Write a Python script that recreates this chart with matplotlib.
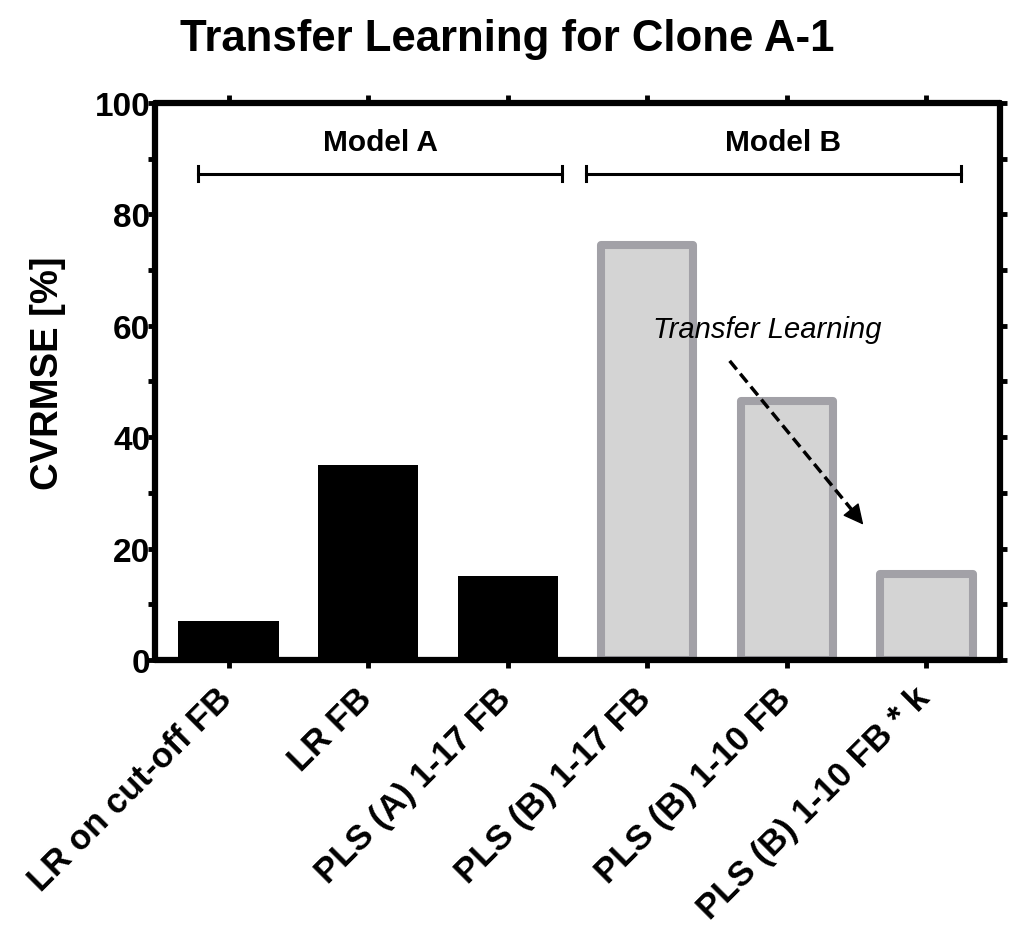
import matplotlib
matplotlib.use('Agg')
import matplotlib.pyplot as plt
from matplotlib.ticker import MultipleLocator

# Data
categories = ['LR on cut-off FB', 'LR FB', 'PLS (A) 1-17 FB',
              'PLS (B) 1-17 FB', 'PLS (B) 1-10 FB', 'PLS (B) 1-10 FB * k']
model_a_values = [7, 35, 15]
model_b_values = [74.5, 46.5, 15.5]
groups = ['Model A', 'Model B']
title = 'Transfer Learning for Clone A-1'
y_label = 'CVRMSE [%]'
arrow_label = 'Transfer Learning'

plt.rcParams['font.family'] = ['Liberation Sans', 'DejaVu Sans']

fig = plt.figure(figsize=(10.24, 9.37), dpi=100)
ax = fig.add_axes([0.151, 0.2946, 0.826, 0.5944])

xa = list(range(len(model_a_values)))
xb = [len(model_a_values) + i for i in range(len(model_b_values))]

ax.bar(xa, model_a_values, width=0.72, color='black', edgecolor='black', linewidth=0)
ax.bar(xb, model_b_values, width=0.66, color='#d4d4d4', edgecolor='#a2a1a7', linewidth=5.8,
       joinstyle='round')

ax.set_xlim(-0.53, 5.53)
ax.set_ylim(0, 100)
ax.yaxis.set_major_locator(MultipleLocator(20))
ax.yaxis.set_minor_locator(MultipleLocator(10))
ax.set_xticks(xa + xb)
ax.set_xticklabels([])
# rotated category labels, placed by hand below each tick
for x, name in zip(xa + xb, categories):
    ax.annotate(name, xy=(x, 0), xycoords=('data', 'axes fraction'),
                xytext=(-9.4, -15), textcoords='offset points',
                rotation=45, ha='right', va='top', rotation_mode='anchor',
                fontsize=25, fontweight='bold', annotation_clip=False)
for lab in ax.get_yticklabels():
    lab.set_fontweight('bold')
ax.tick_params(axis='y', which='major', labelsize=24, length=5, width=3.5, pad=-2,
               left=True, right=True, direction='out')
ax.tick_params(axis='y', which='minor', length=5, width=3.5, left=True, right=True, direction='out')
ax.tick_params(axis='x', which='major', length=6, width=3.5, top=True, bottom=True,
               direction='out')
for s in ax.spines.values():
    s.set_linewidth(4.5)
    s.set_capstyle('round')

fig.text(47.5 / 1024, 1 - 373 / 937, y_label, rotation=90, ha='center', va='center',
         fontsize=27.5, fontweight='bold')

# group brackets
brackets = [(-0.22, 2.39), (2.56, 5.25)]
group_text_x = [1.09, 3.97]
for name, (x0, x1), tx in zip(groups, brackets, group_text_x):
    ax.plot([x0, x1], [87.3, 87.3], color='black', lw=2.2)
    ax.plot([x0, x0], [86.0, 88.6], color='black', lw=2.2)
    ax.plot([x1, x1], [86.0, 88.6], color='black', lw=2.2)
    ax.text(tx, 93.0, name, ha='center', va='center', fontsize=21.5, fontweight='bold')

# transfer learning arrow
ax.plot([3.59, 4.48], [53.7, 26.5], color='black', lw=2.5, ls=(0, (3.2, 1.6)))
ax.annotate('', xy=(4.56, 23.9), xytext=(4.46, 27.0),
            arrowprops=dict(arrowstyle='-|>', color='black', lw=1, mutation_scale=32))
ax.text(3.86, 59.4, arrow_label, ha='center', va='center', fontsize=21, fontstyle='italic')

fig.text(0.495, 1 - 40 / 937, title, ha='center', va='center', fontsize=31.5, fontweight='bold')

fig.savefig('out.png', dpi=100)
